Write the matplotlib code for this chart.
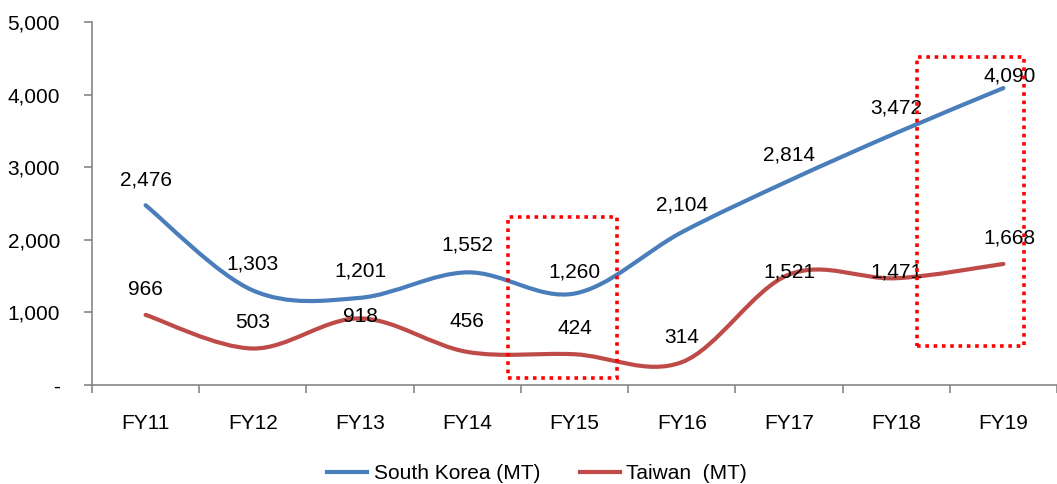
import numpy as np
import matplotlib.pyplot as plt
from matplotlib.path import Path
from matplotlib.patches import PathPatch, Rectangle
from matplotlib.lines import Line2D
from matplotlib.ticker import FuncFormatter

plt.rcParams['font.family'] = ['Liberation Sans', 'DejaVu Sans']

years = ['FY11', 'FY12', 'FY13', 'FY14', 'FY15', 'FY16', 'FY17', 'FY18', 'FY19']
korea = [2476, 1303, 1201, 1552, 1260, 2104, 2814, 3472, 4090]
taiwan = [966, 503, 918, 456, 424, 314, 1521, 1471, 1668]

# label offsets in pixels (dx, dy) from each point
korea_off = [(0, 25), (0, 26), (0, 27), (0, 27), (0, 22), (0, 27), (0, 26), (0, 25), (6, 12)]
taiwan_off = [(0, 25), (0, 26), (0, 2), (0, 30), (0, 26), (0, 25), (0, 3), (0, 6), (6, 26)]

BLUE = '#4A7EBB'
RED = '#BE4B48'
FS = 15


def smooth_path(xs, ys):
    # cubic bezier through every point, excel-style smoothed line
    xs = np.asarray(xs, float)
    ys = np.asarray(ys, float)
    n = len(xs)
    verts = [(xs[0], ys[0])]
    codes = [Path.MOVETO]
    for i in range(n - 1):
        i0 = max(i - 1, 0)
        i3 = min(i + 2, n - 1)
        c1 = (xs[i] + (xs[i + 1] - xs[i0]) / 6, ys[i] + (ys[i + 1] - ys[i0]) / 6)
        c2 = (xs[i + 1] - (xs[i3] - xs[i]) / 6, ys[i + 1] - (ys[i3] - ys[i]) / 6)
        verts += [c1, c2, (xs[i + 1], ys[i + 1])]
        codes += [Path.CURVE4] * 3
    return Path(verts, codes)


fig = plt.figure(figsize=(10.57, 4.84), dpi=100)
ax = fig.add_axes([0.087, 0.2045, 0.913, 0.75])

x = np.arange(len(years))
for vals, col, offs in [(korea, BLUE, korea_off), (taiwan, RED, taiwan_off)]:
    ax.add_patch(PathPatch(smooth_path(x, vals), facecolor='none', edgecolor=col,
                           lw=3, capstyle='round', joinstyle='round', zorder=3))
    for xi, v, (dx, dy) in zip(x, vals, offs):
        ax.annotate(f'{v:,}', (xi, v), xytext=(dx * 0.72, dy * 0.72),
                    textcoords='offset points', ha='center', va='center',
                    fontsize=FS, color='black', zorder=4)

# highlight boxes
for (x0, y0, x1, y1) in [(3.38, 96, 4.40, 2314), (7.19, 537, 8.19, 4518)]:
    ax.add_patch(Rectangle((x0, y0), x1 - x0, y1 - y0, fill=False, edgecolor='#FF0000',
                           lw=2.6, linestyle=(0, (1, 1.3)), zorder=5, clip_on=False))

ax.set_xlim(-0.5, len(years) - 0.5)
ax.set_ylim(0, 5000)
ax.set_yticks(range(0, 5001, 1000))
ax.yaxis.set_major_formatter(FuncFormatter(lambda v, p: '-' if v == 0 else f'{int(v):,}'))
ax.set_xticks(x)
ax.set_xticklabels(years)
ax.set_xticks(np.arange(-0.5, len(years), 1), minor=True)

for s in ['top', 'right']:
    ax.spines[s].set_visible(False)
for s in ['left', 'bottom']:
    ax.spines[s].set_color('#868686')
    ax.spines[s].set_linewidth(1.2)

ax.tick_params(axis='y', length=6, width=1.2, color='#868686', labelsize=FS, pad=17)
ax.tick_params(axis='x', which='major', length=0, labelsize=FS, pad=21)
ax.tick_params(axis='x', which='minor', length=6, width=1.2, color='#868686')

handles = [Line2D([], [], color=BLUE, lw=3), Line2D([], [], color=RED, lw=3)]
fig.legend(handles, ['South Korea (MT)', 'Taiwan  (MT)'], loc='center',
           bbox_to_anchor=(0.508, 0.022), ncol=2, frameon=False, fontsize=FS,
           handlelength=1.95, handletextpad=0.3, columnspacing=1.9)

fig.savefig('out.png', dpi=100)
